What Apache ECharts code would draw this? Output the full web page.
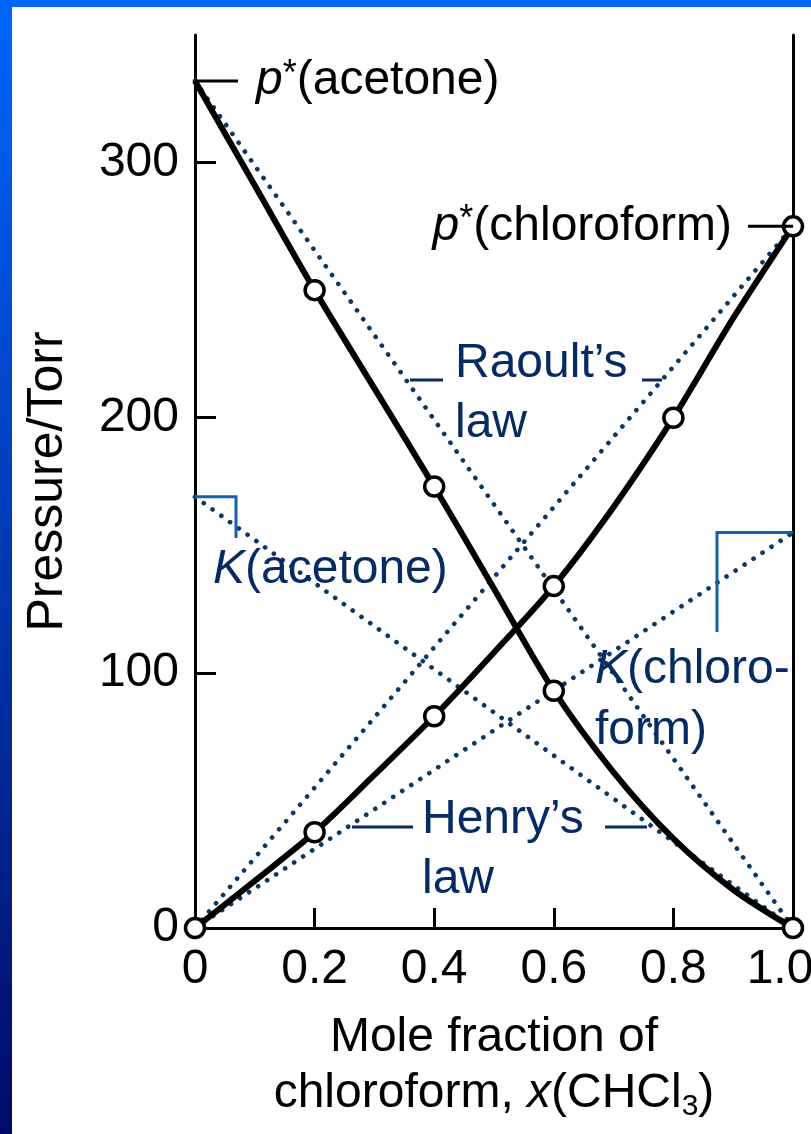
<!DOCTYPE html>
<html><head><meta charset="utf-8">
<script src="https://cdn.jsdelivr.net/npm/echarts@6/dist/echarts.min.js"></script>
<style>
html,body{margin:0;padding:0;background:#fff;overflow:hidden;}
#c{position:absolute;left:0;top:0;width:811px;height:1134px;}
#topbar{position:absolute;left:0;top:0;width:811px;height:7px;background:#0066ff;}
#leftbar{position:absolute;left:0;top:0;width:12px;height:1134px;background:linear-gradient(#0066ff,#000a66);}
</style></head><body>
<div id="c"></div><div id="topbar"></div><div id="leftbar"></div>
<script>
// ---- data ----
const xTickLabels = ['0', '0.2', '0.4', '0.6', '0.8', '1.0'];
const yTickValues = [0, 100, 200, 300];
const moleFraction = [0, 0.1, 0.2, 0.3, 0.4, 0.5, 0.6, 0.7, 0.8, 0.9, 1.0];
const pAcetone =     [332, 291, 250, 211.5, 173, 133, 93, 61, 35, 15, 0];
const pChloroform =  [0, 18.5, 37.5, 60, 83, 108, 134, 165, 200, 239, 275];
const acetoneMeasuredX = [0.2, 0.4, 0.6, 1.0];
const chloroformMeasuredX = [0, 0.2, 0.4, 0.6, 0.8, 1.0];
const pStarAcetone = 332;
const pStarChloroform = 275;
const kAcetone = 169;
const kChloroform = 155;

// ---- build ----
const FONT = "'Liberation Sans', Arial, sans-serif";
const lineAc = moleFraction.map((x, i) => [x, pAcetone[i]]);
const lineCh = moleFraction.map((x, i) => [x, pChloroform[i]]);
const ptsAc = lineAc.filter(p => acetoneMeasuredX.indexOf(p[0]) >= 0);
const ptsCh = lineCh.filter(p => chloroformMeasuredX.indexOf(p[0]) >= 0);
const dotted = { type: [0.1, 10.7], cap: 'round', width: 4.6, color: '#0c3764' };
function dottedSeries(data) {
  return { type: 'line', data: data, symbol: 'none', lineStyle: dotted, z: 1, silent: true };
}

const chart = echarts.init(document.getElementById('c'), null, { renderer: 'canvas' });
const axisLineStyle = { color: '#000', width: 3 };
chart.setOption({
  animation: false,
  backgroundColor: '#fff',
  grid: { left: 195, right: 18, top: 35, bottom: 206, containLabel: false, outerBoundsMode: 'none' },
  xAxis: {
    type: 'value', min: 0, max: 1, interval: 0.2,
    axisLine: { show: true, lineStyle: axisLineStyle },
    axisTick: { show: true, inside: true, length: 20, lineStyle: { color: '#000', width: 3 } },
    axisLabel: {
      formatter: v => {
        const i = Math.round(v / 0.2);
        return i === xTickLabels.length - 1 ? '{last|' + xTickLabels[i] + '}' : xTickLabels[i];
      },
      rich: { last: { fontSize: 48, fontFamily: FONT, color: '#000', padding: [0, 26, 0, 0] } },
      fontSize: 48, fontFamily: FONT, color: '#000', margin: 18, hideOverlap: false
    },
    splitLine: { show: false },
    name: 'Mole fraction of\nchloroform, {i|x}(CHCl{sub|3})',
    nameLocation: 'middle', nameGap: 82,
    nameTextStyle: {
      fontSize: 48, fontFamily: FONT, color: '#000', lineHeight: 56,
      rich: {
        i: { fontSize: 48, fontFamily: FONT, fontStyle: 'italic', color: '#000', lineHeight: 56 },
        sub: { fontSize: 30, fontFamily: FONT, color: '#000', lineHeight: 30, verticalAlign: 'bottom' }
      }
    }
  },
  yAxis: [{
    type: 'value', min: 0, max: 350, interval: 100,
    axisLine: { show: true, lineStyle: axisLineStyle },
    axisTick: { show: true, inside: true, length: 21, lineStyle: { color: '#000', width: 3 }, customValues: [100, 200, 300] },
    axisLabel: { customValues: yTickValues, fontSize: 48, fontFamily: FONT, color: '#000', margin: 16, hideOverlap: false },
    splitLine: { show: false },
    name: 'Pressure/Torr', nameLocation: 'middle', nameRotate: 90, nameGap: 122,
    nameTextStyle: { fontSize: 50, fontFamily: FONT, color: '#000' }
  }, {
    type: 'value', min: 0, max: 350, position: 'right',
    axisLine: { show: true, lineStyle: axisLineStyle },
    axisTick: { show: false }, axisLabel: { show: false }, splitLine: { show: false }
  }],
  series: [
    dottedSeries([[0, pStarAcetone], [1, 0]]),
    dottedSeries([[0, 0], [1, pStarChloroform]]),
    dottedSeries([[0, kAcetone], [1, 0]]),
    dottedSeries([[0, 0], [1, kChloroform]]),
    { type: 'line', data: lineAc, smooth: 0.3, symbol: 'none', lineStyle: { color: '#000', width: 6 }, z: 3 },
    { type: 'line', data: lineCh, smooth: 0.3, symbol: 'none', lineStyle: { color: '#000', width: 6 }, z: 3 },
    { type: 'scatter', data: ptsAc.concat(ptsCh), symbol: 'circle', symbolSize: 19, clip: false,
      itemStyle: { color: '#fff', borderColor: '#000', borderWidth: 3.5, opacity: 1 }, z: 5 }
  ]
});

// ---- annotations ----
const P = (x, y) => chart.convertToPixel({ xAxisIndex: 0, yAxisIndex: 0 }, [x, y]);
const BLUE_TXT = '#062b63';
const BLUE_LINE = '#1560a8';
function txt(x, y, t, color, align) {
  return {
    type: 'text', x: x, y: y, z: 20,
    style: {
      text: t, fontSize: 48, fontFamily: FONT, fill: color, align: align || 'left', verticalAlign: 'middle',
      rich: {
        i: { fontSize: 48, fontFamily: FONT, fontStyle: 'italic', fill: color },
        sup: { fontSize: 36, fontFamily: FONT, fill: color, verticalAlign: 'top', lineHeight: 34 }
      }
    }
  };
}
function seg(pts, color, w) {
  return { type: 'polyline', z: 20, shape: { points: pts }, style: { stroke: color, lineWidth: w || 3, fill: null } };
}
const pa = P(0, pStarAcetone), pc = P(1, pStarChloroform), ka = P(0, kAcetone), kc = P(1, kChloroform);
chart.setOption({
  graphic: [
    seg([pa, [238, pa[1]]], '#000'),
    txt(256, pa[1], '{i|p}{sup|*}(acetone)', '#000'),
    seg([[748, pc[1]], pc], '#000'),
    txt(732, pc[1], '{i|p}{sup|*}(chloroform)', '#000', 'right'),
    seg([[410, 380], [443, 380]], BLUE_TXT),
    seg([[642, 380], [662, 380]], BLUE_TXT),
    txt(455, 364, 'Raoult\u2019s', BLUE_TXT),
    txt(455, 424, 'law', BLUE_TXT),
    seg([ka, [236, ka[1]], [236, 538]], BLUE_LINE),
    txt(213, 570, '{i|K}(acetone)', BLUE_TXT),
    seg([kc, [717, kc[1]], [717, 632]], BLUE_LINE),
    txt(595, 670, '{i|K}(chloro-', BLUE_TXT),
    txt(595, 731, 'form)', BLUE_TXT),
    seg([[352, 827], [413, 827]], BLUE_TXT),
    seg([[605, 827], [647, 827]], BLUE_TXT),
    txt(422, 820, 'Henry\u2019s', BLUE_TXT),
    txt(422, 880, 'law', BLUE_TXT)
  ]
});
</script></body></html>
